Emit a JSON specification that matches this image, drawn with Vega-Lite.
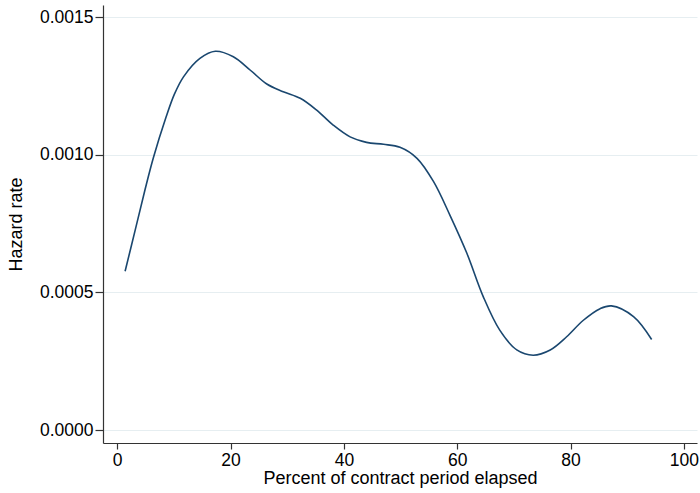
{
  "$schema": "https://vega.github.io/schema/vega-lite/v6.json",
  "autosize": {"type": "none"},
  "width": 594,
  "height": 438,
  "padding": {"left": 103, "top": 5, "right": 3, "bottom": 50},
  "background": "white",
  "config": {
    "view": {"stroke": null},
    "font": "Liberation Sans",
    "axis": {
      "labelFont": "Liberation Sans",
      "titleFont": "Liberation Sans",
      "labelFontSize": 17.5,
      "titleFontSize": 18,
      "titleFontWeight": "normal",
      "labelColor": "#000000",
      "titleColor": "#000000",
      "domainColor": "#333333",
      "domainWidth": 1.2,
      "tickColor": "#333333",
      "tickWidth": 1.2
    }
  },
  "data": {
    "values": [
      {"pct": 1.4, "hazard": 0.000577},
      {"pct": 3.2, "hazard": 0.000728},
      {"pct": 4.9, "hazard": 0.000872},
      {"pct": 6.4, "hazard": 0.00099},
      {"pct": 8.6, "hazard": 0.001135},
      {"pct": 10.1, "hazard": 0.00122},
      {"pct": 11.7, "hazard": 0.001283},
      {"pct": 14.6, "hazard": 0.00135},
      {"pct": 17.3, "hazard": 0.001376},
      {"pct": 20.5, "hazard": 0.001356},
      {"pct": 23.5, "hazard": 0.001307},
      {"pct": 26.4, "hazard": 0.001257},
      {"pct": 29.3, "hazard": 0.001229},
      {"pct": 32.3, "hazard": 0.001205},
      {"pct": 35.2, "hazard": 0.001162},
      {"pct": 38.1, "hazard": 0.001108},
      {"pct": 41.1, "hazard": 0.001065},
      {"pct": 44.0, "hazard": 0.001045},
      {"pct": 47.0, "hazard": 0.001038},
      {"pct": 49.9, "hazard": 0.001027},
      {"pct": 52.9, "hazard": 0.000987},
      {"pct": 55.8, "hazard": 0.000903},
      {"pct": 58.7, "hazard": 0.000781},
      {"pct": 61.7, "hazard": 0.000642},
      {"pct": 64.6, "hazard": 0.000484},
      {"pct": 67.5, "hazard": 0.000363},
      {"pct": 70.5, "hazard": 0.000291},
      {"pct": 73.4, "hazard": 0.000272},
      {"pct": 76.4, "hazard": 0.000291},
      {"pct": 79.3, "hazard": 0.000339},
      {"pct": 82.2, "hazard": 0.000398},
      {"pct": 85.2, "hazard": 0.000441},
      {"pct": 87.2, "hazard": 0.000451},
      {"pct": 91.1, "hazard": 0.000412},
      {"pct": 94.3, "hazard": 0.000329}
    ]
  },
  "mark": {"type": "line", "interpolate": "catmull-rom", "color": "#1a476f", "strokeWidth": 1.6},
  "encoding": {
    "x": {
      "field": "pct",
      "type": "quantitative",
      "scale": {"domain": [-2.5, 102.3], "nice": false, "zero": false},
      "axis": {
        "values": [0, 20, 40, 60, 80, 100],
        "title": "Percent of contract period elapsed",
        "grid": false,
        "tickSize": 6,
        "labelPadding": 2,
        "titlePadding": 1,
        "labelFlush": false
      }
    },
    "y": {
      "field": "hazard",
      "type": "quantitative",
      "scale": {"domain": [-0.000047, 0.001544], "nice": false, "zero": false},
      "axis": {
        "values": [0, 0.0005, 0.001, 0.0015],
        "format": ".4f",
        "title": "Hazard rate",
        "grid": true,
        "gridColor": "#e6eef1",
        "gridWidth": 1,
        "tickSize": 8,
        "labelPadding": 2,
        "titlePadding": 14,
        "labelFlush": false
      }
    }
  }
}
